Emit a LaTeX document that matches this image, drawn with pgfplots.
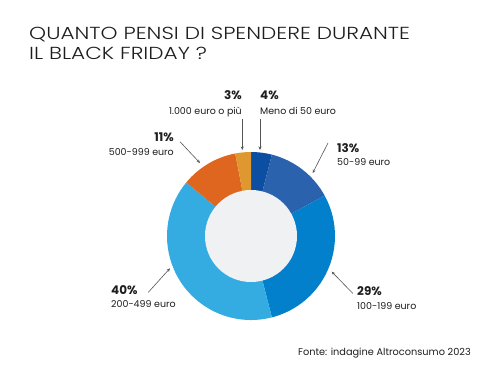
\documentclass[border=0pt]{standalone}
\usepackage{pgfplots}
\pgfplotsset{compat=1.18}
\usepackage{pgfplotstable}
\usetikzlibrary{arrows.meta}
\usepackage{fontspec}
\setmainfont{Poppins}
\newfontfamily\titlefont[FakeStretch=1.24]{Poppins Light}
\definecolor{c1}{HTML}{0B4EA2}
\definecolor{c2}{HTML}{2B62AE}
\definecolor{c3}{HTML}{0380CB}
\definecolor{c4}{HTML}{35ACE1}
\definecolor{c5}{HTML}{DF661F}
\definecolor{c6}{HTML}{DE982F}
\definecolor{inner}{HTML}{F0F1F3}
\definecolor{txt}{HTML}{1E1E1E}
\definecolor{arr}{HTML}{555555}
\pgfplotstableread{
value color
4 c1
13 c2
29 c3
40 c4
11 c5
3 c6
}\donutdata
\begin{document}
\begin{tikzpicture}
\begin{axis}[
  width=500bp, height=378bp, scale only axis,
  xmin=0, xmax=500, ymin=0, ymax=378,
  hide axis, clip=false,
]
\fill[white] (axis cs:0,0) rectangle (axis cs:500,378);
\def\cum{0}
\pgfplotsforeachungrouped \i in {0,...,5}{%
  \pgfplotstablegetelem{\i}{value}\of\donutdata \let\v\pgfplotsretval
  \pgfplotstablegetelem{\i}{color}\of\donutdata \let\c\pgfplotsretval
  \pgfmathsetmacro\a{90-3.6*\cum}%
  \pgfmathsetmacro\cum{\cum+\v}%
  \pgfmathsetmacro\b{90-3.6*\cum}%
  \edef\temp{\noexpand\fill[\c] (axis cs:251,142) -- ([shift={(\a:84bp)}]axis cs:251,142) arc[start angle=\a, end angle=\b, radius=84bp] -- cycle;}%
  \temp
}
\fill[inner] (axis cs:251,142) circle[radius=46bp];
% title
\node[anchor=base west, inner sep=0, text=txt, font=\titlefont\fontsize{17.5}{20}\selectfont] at (axis cs:29,338.5) {QUANTO PENSI DI SPENDERE DURANTE};
\node[anchor=base west, inner sep=0, text=txt, font=\titlefont\fontsize{17.5}{20}\selectfont] at (axis cs:29,318.5) {IL BLACK FRIDAY ?};
% labels
\tikzset{pct/.style={inner sep=0, text=txt, font=\bfseries\fontsize{12}{14}\selectfont},
         lab/.style={inner sep=0, text=txt, font=\fontsize{9.5}{11}\selectfont}}
\node[pct, anchor=base east] at (axis cs:242,278) {3\%};
\node[lab, anchor=base east] at (axis cs:242,263.5) {1.000 euro o più};
\node[pct, anchor=base west] at (axis cs:260,278) {4\%};
\node[lab, anchor=base west] at (axis cs:260,263.5) {Meno di 50 euro};
\node[pct, anchor=base east] at (axis cs:174,236.5) {11\%};
\node[lab, anchor=base east] at (axis cs:174,222.5) {500-999 euro};
\node[pct, anchor=base west] at (axis cs:337,225.5) {13\%};
\node[lab, anchor=base west] at (axis cs:337,212) {50-99 euro};
\node[pct, anchor=base west] at (axis cs:111,84) {40\%};
\node[lab, anchor=base west] at (axis cs:111,70.3) {200-499 euro};
\node[pct, anchor=base west] at (axis cs:357,82.5) {29\%};
\node[lab, anchor=base west] at (axis cs:357,69) {100-199 euro};
\node[lab, anchor=base west, font=\fontsize{9.8}{11}\selectfont] at (axis cs:298,23) {Fonte: indagine Altroconsumo 2023};
% arrows
\tikzset{ar/.style={draw=arr, line width=0.6bp, -{Stealth[length=3.5bp,width=3bp]}}}
\draw[ar] (axis cs:242.3,259) -- (axis cs:242.3,228);
\draw[ar] (axis cs:260,259) -- (axis cs:260,228);
\draw[ar] (axis cs:180,236.3) -- (axis cs:200,215);
\draw[ar] (axis cs:328,235) -- (axis cs:312.7,205);
\draw[ar] (axis cs:148.3,85.7) -- (axis cs:170,109.7);
\draw[ar] (axis cs:352.7,84.7) -- (axis cs:331.7,106.3);
\end{axis}
\end{tikzpicture}
\end{document}
